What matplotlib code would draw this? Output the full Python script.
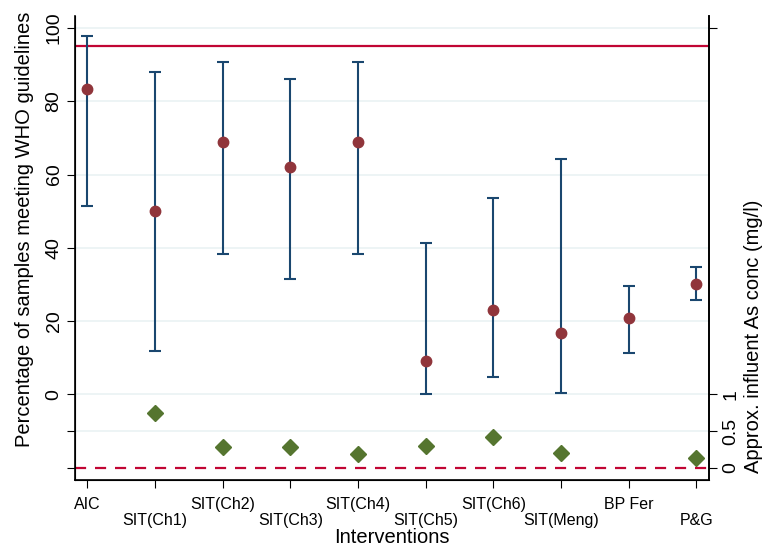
import numpy as np
import matplotlib.pyplot as plt

plt.rcParams['font.family'] = ['Liberation Sans', 'DejaVu Sans']

# data
interventions = ['AIC', 'SIT(Ch1)', 'SIT(Ch2)', 'SIT(Ch3)', 'SIT(Ch4)', 'SIT(Ch5)',
                 'SIT(Ch6)', 'SIT(Meng)', 'BP Fer', 'P&G']
pct_meeting = [83.3, 50.0, 68.9, 62.1, 68.9, 9.1, 23.0, 16.8, 20.9, 30.1]
ci_upper = [97.8, 88.0, 90.7, 86.1, 90.7, 41.3, 53.6, 64.2, 29.6, 34.8]
ci_lower = [51.4, 11.9, 38.3, 31.5, 38.3, 0.1, 4.8, 0.4, 11.3, 25.8]
# influent arsenic (mg/l), None where not shown
as_conc = [None, 0.75, 0.28, 0.28, 0.18, 0.30, 0.42, 0.20, None, 0.13]
who_line = 95

x = np.arange(1, len(interventions) + 1)
pct = np.array(pct_meeting)
yerr = [pct - np.array(ci_lower), np.array(ci_upper) - pct]

fig = plt.figure(figsize=(7.68, 5.48), dpi=100)
ax = fig.add_axes([0.0977, 0.124, 0.825, 0.847])

ylo, yhi = -23.4, 103.3
ax.set_ylim(ylo, yhi)
ax.set_xlim(0.82, 10.18)

for g in [-10, 0, 20, 40, 60, 80, 100]:
    ax.axhline(g, color='#eaf2f3', lw=1.2, zorder=0)

ax.axhline(who_line, color='#c10534', lw=1.6, zorder=2)
ax.axhline(-20, color='#c10534', lw=1.6, ls=(0, (5, 4)), zorder=2)

ax.errorbar(x, pct, yerr=yerr, fmt='none', ecolor='#1a476f', elinewidth=1.5,
            capsize=4.5, capthick=1.5, zorder=3)
ax.plot(x, pct, 'o', color='#90353b', ms=7.5, zorder=4)

ax.set_yticks([-20, -10, 0, 20, 40, 60, 80, 100])
ax.set_yticklabels(['', '', '0', '20', '40', '60', '80', '100'], rotation=90, va='center')
ax.tick_params(axis='y', length=6, width=0.8, labelsize=14, pad=3)
ax.set_ylabel('Percentage of samples meeting WHO guidelines', fontsize=14.5)
ax.yaxis.set_label_coords(-0.065, 0.54)

ax.set_xticks(x)
ax.set_xticklabels(interventions, fontsize=11.5)
ax.tick_params(axis='x', length=6, width=0.8)
for i, t in enumerate(ax.xaxis.get_major_ticks()):
    t.set_pad(6 if i % 2 == 0 else 18)
ax.set_xlabel('Interventions', fontsize=14.5, labelpad=0)

ax.spines['top'].set_visible(False)
for s in ['left', 'bottom', 'right']:
    ax.spines[s].set_linewidth(1.2)

# right axis: as conc, 1 mg/l == 20 percentage points, 0 at -20
ax2 = ax.twinx()
ax2.set_ylim((ylo + 20) / 20, (yhi + 20) / 20)
xs = [xi for xi, c in zip(x, as_conc) if c is not None]
cs = [c for c in as_conc if c is not None]
ax2.plot(xs, cs, 'D', color='#55752f', ms=8, zorder=5)
ax2.set_yticks([0, 0.5, 1, 6])
ax2.set_yticklabels(['0', '0.5', '1', ''], rotation=90, va='center')
ax2.tick_params(axis='y', length=6, width=0.8, labelsize=14, pad=4)
ax2.set_ylabel('Approx. influent As conc (mg/l)', fontsize=14.5)
ax2.yaxis.set_label_coords(1.056, 0.31)
ax2.spines['top'].set_visible(False)
ax2.spines['right'].set_linewidth(1.2)

fig.savefig('out.png', dpi=100)
